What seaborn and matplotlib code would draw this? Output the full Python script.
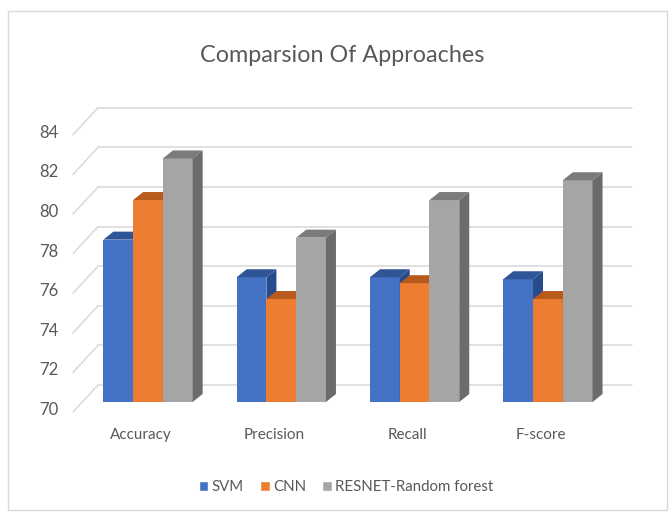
import numpy as np
import pandas as pd
import matplotlib
matplotlib.use("Agg")
import matplotlib.pyplot as plt
import seaborn as sns
from matplotlib.patches import Polygon, Rectangle

# ---- data ----
categories = ["Accuracy", "Precision", "Recall", "F-score"]
svm = [78.2, 76.3, 76.3, 76.2]
cnn = [80.2, 75.2, 76.0, 75.2]
resnet = [82.3, 78.3, 80.2, 81.2]
series_names = ["SVM", "CNN", "RESNET-Random forest"]
y_ticks = [70, 72, 74, 76, 78, 80, 82, 84]
title = "Comparsion Of Approaches"

colors = ["#4472C4", "#ED7D31", "#A5A5A5"]
top_colors = ["#2F5597", "#B85A1C", "#7B7B7B"]
side_colors = ["#264C8C", "#A8501A", "#6B6B6B"]

df = pd.DataFrame({
    "category": categories * 3,
    "value": svm + cnn + resnet,
    "model": [series_names[0]] * 4 + [series_names[1]] * 4 + [series_names[2]] * 4,
})

sns.set_theme(style="white")
plt.rcParams["font.family"] = ["Lato", "DejaVu Sans"]
TXT = "#595959"

W, H = 669, 514
fig = plt.figure(figsize=(W / 100, H / 100), dpi=100)

# pixel geometry of the plot
cx0, cstep = 148.0, 133.3      # pixel x of first category, spacing
base_px, ppu = 402.0, 19.8      # pixel y of value 70 on bar front plane, px per unit
ymin_val = 70
ax_l, ax_r, ax_t, ax_b = 60, 640, 95, 425
ax = fig.add_axes([ax_l / W, 1 - ax_b / H, (ax_r - ax_l) / W, (ax_b - ax_t) / H])

def dx(px):
    return px / cstep

def dy(px):
    return px / ppu

sns.barplot(data=df, x="category", y="value", hue="model", order=categories,
            hue_order=series_names, palette=colors, width=0.67, saturation=1,
            ax=ax, legend=True, zorder=5)
handles, labels = ax.get_legend_handles_labels()
ax.get_legend().remove()

ax.set_xlim((ax_l - cx0) / cstep, (ax_r - cx0) / cstep)
ax.set_ylim(ymin_val - (ax_b - base_px) / ppu, ymin_val + (base_px - ax_t) / ppu)

# back wall gridlines and floor diagonals
for v in y_ticks:
    ax.plot([dx(98 - cx0), dx(632 - cx0)], [v + dy(17), v + dy(17)],
            color="#D9D9D9", lw=1.1, zorder=1, clip_on=False)
    ax.plot([dx(73 - cx0), dx(98 - cx0)], [v - dy(10), v + dy(17)],
            color="#D9D9D9", lw=1.1, zorder=1, clip_on=False)
    ax.text(dx(58 - cx0), v - dy(8), str(v), ha="right", va="center",
            fontsize=12, color=TXT, clip_on=False)

# 3D faces derived from the bar patches
bars = [p for p in ax.patches if isinstance(p, Rectangle) and p.get_width() > 0]
bars.sort(key=lambda p: p.get_x())
ddx, ddy = dx(10), dy(8)
for i, p in enumerate(bars):
    fc = p.get_facecolor()
    k = min(range(3), key=lambda j: sum(abs(a - b) for a, b in
                                        zip(matplotlib.colors.to_rgb(colors[j]), fc[:3])))
    top_val = p.get_height()
    p.set_y(ymin_val)
    p.set_height(top_val - ymin_val)
    p.set_edgecolor("none")
    z = 5 + i * 0.1
    p.set_zorder(z)
    x0, w = p.get_x(), p.get_width()
    side = Polygon([(x0 + w, ymin_val), (x0 + w + ddx, ymin_val + ddy),
                    (x0 + w + ddx, top_val + ddy), (x0 + w, top_val)],
                   closed=True, facecolor=side_colors[k], edgecolor="none", zorder=z + 0.01)
    top = Polygon([(x0, top_val), (x0 + w, top_val), (x0 + w + ddx, top_val + ddy),
                   (x0 + ddx, top_val + ddy)],
                  closed=True, facecolor=top_colors[k], edgecolor="none", zorder=z + 0.02)
    ax.add_patch(side)
    ax.add_patch(top)

# category labels
for i, c in enumerate(categories):
    ax.text(i - dx(7), ymin_val - dy(33), c, ha="center", va="center",
            fontsize=11, color=TXT, clip_on=False)

ax.set_xticks([])
ax.set_yticks([])
ax.set_xlabel("")
ax.set_ylabel("")
for s in ax.spines.values():
    s.set_visible(False)
ax.patch.set_alpha(0)

fig.text(342 / W, 1 - 55 / H, title, ha="center", va="center", fontsize=16.8, color=TXT)

fig.legend(handles, labels, loc="center", bbox_to_anchor=(346 / W, 1 - 487 / H),
           ncol=3, frameon=False, fontsize=10.8, handlelength=0.65, handleheight=0.65,
           handletextpad=0.2, columnspacing=1.1, labelcolor=TXT)

# chart border
fig.add_artist(Rectangle((8 / W, 1 - 510 / H), 659 / W, 499 / H,
                         transform=fig.transFigure, fill=False, edgecolor="#D9D9D9", lw=1))

fig.savefig("out.png", dpi=100)
